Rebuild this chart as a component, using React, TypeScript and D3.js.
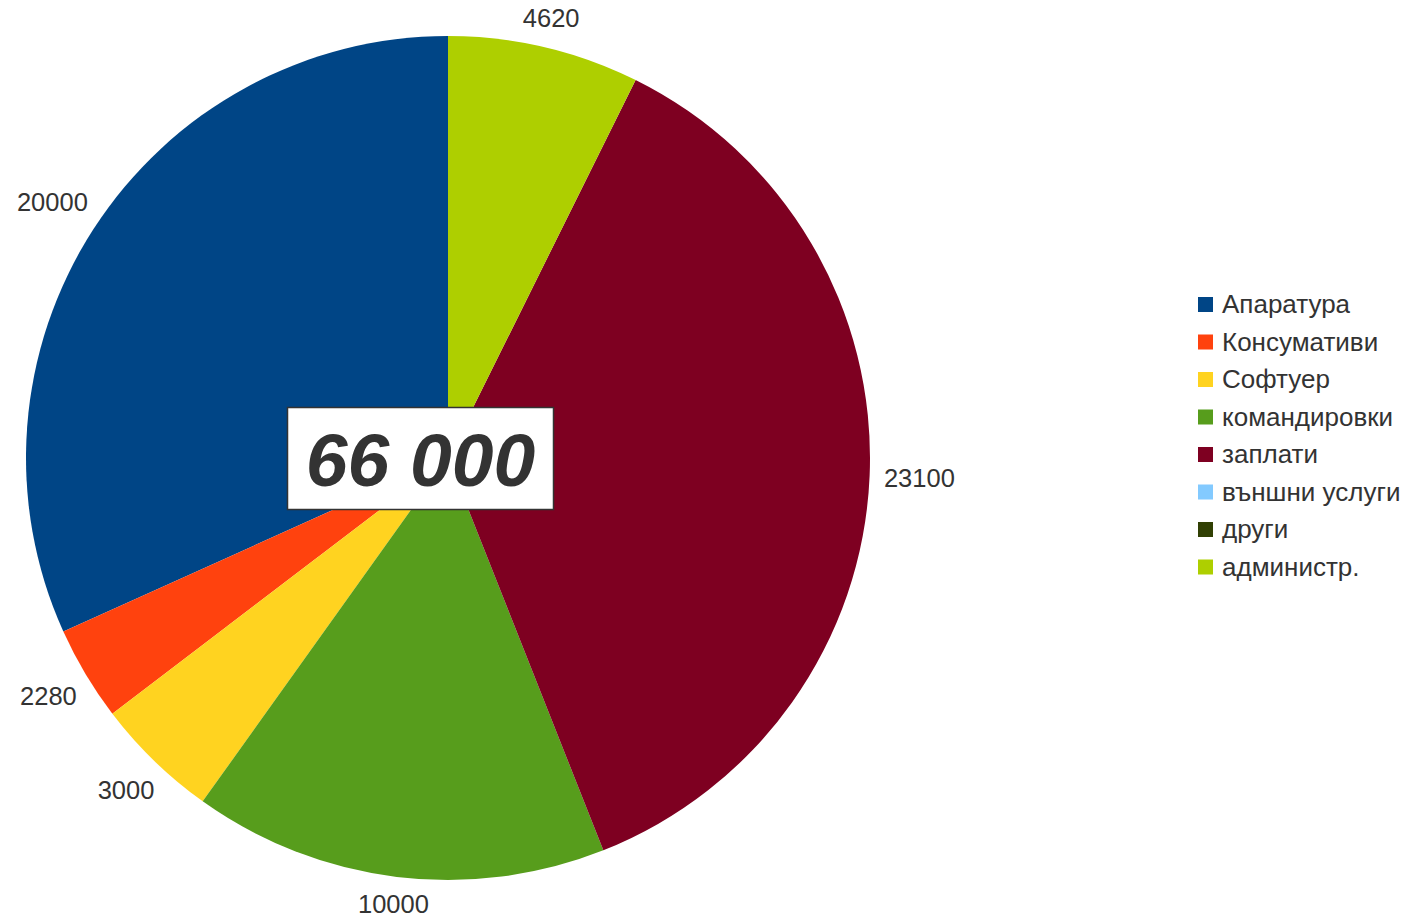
import { arc, pie, PieArcDatum } from "d3";
import { FC } from "react";

// budget items, in legend order
const categories = [
  "Апаратура",
  "Консумативи",
  "Софтуер",
  "командировки",
  "заплати",
  "външни услуги",
  "други",
  "администр.",
];
const amounts = [20000, 2280, 3000, 10000, 23100, 0, 0, 4620];
const colors = [
  "#004586",
  "#ff420e",
  "#ffd320",
  "#579d1c",
  "#7e0021",
  "#83caff",
  "#314004",
  "#aecf00",
];
const totalLabel = "66 000";

const W = 1418;
const H = 920;
const cx = 448;
const cy = 458;
const radius = 422;
const fontFamily = "'Liberation Sans', Arial, sans-serif";
const labelSize = 25.5;

type Slice = { name: string; value: number; color: string };

const App: FC = () => {
  const slices: Slice[] = categories.map((name, i) => ({
    name,
    value: amounts[i],
    color: colors[i],
  }));

  // LibreOffice draws counter-clockwise from 12 o'clock
  const layout = pie<Slice>()
    .value((d) => d.value)
    .sort(null)
    .startAngle(0)
    .endAngle(-2 * Math.PI);
  const arcs = layout(slices);

  const arcGen = arc<PieArcDatum<Slice>>().innerRadius(0).outerRadius(radius);

  const labelPos = (d: PieArcDatum<Slice>) => {
    const a = (d.startAngle + d.endAngle) / 2;
    const s = Math.sin(a);
    const c = Math.cos(a);
    const hw = (String(d.data.value).length * 0.556 * labelSize) / 2;
    const hh = 9.5;
    const dist = radius + 14 + Math.abs(s) * hw + Math.abs(c) * hh;
    return [cx + s * dist, cy - c * dist];
  };

  const legendX = 1198;
  const legendY = 297;
  const legendStep = 37.5;

  return (
    <svg width={W} height={H} style={{ position: "absolute", left: 0, top: 0 }}>
      <rect width={W} height={H} fill="#ffffff" />
      <g transform={`translate(${cx},${cy})`}>
        {arcs
          .filter((d) => d.data.value > 0)
          .map((d) => (
            <path key={d.data.name} d={arcGen(d) ?? ""} fill={d.data.color} />
          ))}
      </g>
      {arcs
        .filter((d) => d.data.value > 0)
        .map((d) => {
          const [x, y] = labelPos(d);
          return (
            <text
              key={"l" + d.data.name}
              x={x}
              y={y}
              dy="0.35em"
              textAnchor="middle"
              fontFamily={fontFamily}
              fontSize={labelSize}
              fill="#333333"
            >
              {d.data.value}
            </text>
          );
        })}

      {/* total box */}
      <rect
        x={287.5}
        y={407.5}
        width={266}
        height={102}
        fill="#ffffff"
        stroke="#333333"
        strokeWidth={1.5}
      />
      <text
        x={420.5}
        y={459}
        dy="0.36em"
        textAnchor="middle"
        fontFamily={fontFamily}
        fontSize={75}
        fontWeight="bold"
        fontStyle="italic"
        fill="#333333"
      >
        {totalLabel}
      </text>

      {/* legend */}
      {slices.map((d, i) => (
        <g key={"lg" + d.name} transform={`translate(${legendX},${legendY + i * legendStep})`}>
          <rect width={15} height={15} fill={d.color} />
          <text
            x={24}
            y={7}
            dy="0.35em"
            fontFamily={fontFamily}
            fontSize={26}
            fill="#333333"
          >
            {d.name}
          </text>
        </g>
      ))}
    </svg>
  );
};

export default App;
